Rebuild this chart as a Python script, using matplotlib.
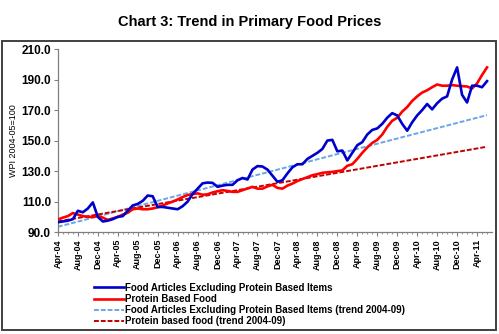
import numpy as np
import pandas as pd
import matplotlib
matplotlib.use('Agg')
from matplotlib import pyplot as plt
from matplotlib.patches import Rectangle

plt.rcParams['font.family'] = ['Liberation Sans', 'DejaVu Sans']

# monthly WPI, Apr-04 .. Jun-11
months = pd.date_range('2004-04-01', '2011-06-01', freq='MS').strftime('%b-%y').tolist()

food_ex_protein = [
    96.5, 97.0, 97.5, 98.5, 104.0, 103.0, 105.5, 109.5, 100.0, 97.0,
    97.5, 98.5, 100.0, 100.5, 104.0, 107.5, 108.5, 110.5, 114.0, 113.5,
    106.5, 106.5, 106.0, 105.5, 105.0, 107.0, 110.0, 115.0, 118.5, 122.0,
    122.5, 122.3, 119.7, 120.5, 121.0, 121.0, 124.0, 125.5, 124.5, 131.0,
    133.3, 133.0, 131.0, 127.0, 123.0, 124.0, 128.5, 132.5, 134.5, 134.5,
    138.0, 140.0, 142.0, 144.5, 150.0, 150.5, 143.0, 143.5, 137.0, 142.0,
    147.0, 149.0, 154.0, 157.0, 158.0, 161.0, 165.0, 168.0, 166.5, 161.0,
    156.5, 162.0, 166.5, 170.0, 174.0, 170.5, 174.5, 177.5, 179.0, 190.0,
    198.0, 180.0, 175.0, 186.0, 186.0, 185.0, 189.0,
]
protein_food = [
    98.3, 99.5, 100.5, 102.5, 101.5, 100.5, 100.0, 100.0, 100.5, 99.5,
    98.0, 99.0, 100.0, 101.5, 102.7, 105.0, 105.5, 105.0, 105.0, 105.5,
    106.3, 107.5, 108.8, 110.0, 111.4, 113.0, 114.3, 115.0, 115.4, 114.5,
    114.8, 116.0, 116.8, 117.5, 117.0, 116.4, 116.4, 117.5, 118.6, 119.7,
    118.5, 118.5, 120.0, 121.0, 119.0, 118.5, 120.5, 121.8, 123.5, 124.8,
    126.0, 127.3, 128.0, 128.9, 129.2, 129.5, 130.0, 130.5, 133.5, 134.5,
    138.0, 142.0, 145.5, 148.5, 150.5, 154.0, 159.0, 163.0, 165.0, 169.0,
    172.0, 176.0, 179.0, 181.5, 183.0, 185.0, 186.8, 186.0, 186.0, 186.4,
    186.0, 185.7, 185.5, 184.2, 187.5, 193.0, 198.0,
]

# linear trends fitted on 2004-09, end points at Apr-04 and Jun-11
trend_x = [0, 86]
food_ex_protein_trend = [93.5, 166.7]
protein_food_trend = [97.0, 146.0]

x = np.arange(len(months))

fig = plt.figure(figsize=(4.99, 3.34), dpi=100)
ax = fig.add_axes([0.116, 0.305, 0.87, 0.548])

ax.plot(trend_x, food_ex_protein_trend, color='#6aa6e8', lw=1.4, ls=(0, (2.5, 1)),
        label='Food Articles Excluding Protein Based Items (trend 2004-09)', zorder=2)
ax.plot(trend_x, protein_food_trend, color='#c00000', lw=1.4, ls=(0, (2.5, 1)),
        label='Protein based food (trend 2004-09)', zorder=2)
ax.plot(x, protein_food, color='#ff0000', lw=1.9,
        label='Protein Based Food', zorder=3)
ax.plot(x, food_ex_protein, color='#0000cc', lw=1.9,
        label='Food Articles Excluding Protein Based Items', zorder=4)

ax.set_xlim(0, 87)
ax.set_ylim(90, 210)
ax.set_yticks(np.arange(90, 211, 20))
ax.set_yticklabels([f'{v:.1f}' for v in np.arange(90, 211, 20)],
                   fontsize=8.5, fontweight='bold')
ax.set_xticks(x[::4])
ax.set_xticklabels(months[::4], rotation=90, fontsize=6.5, fontweight='bold')
ax.set_xticks(x, minor=True)
ax.tick_params(axis='both', which='major', length=3, width=0.8, color='#808080', pad=2)
ax.tick_params(axis='x', which='minor', length=1.5, width=0.6, color='#808080')
ax.set_ylabel('WPI 2004-05=100', fontsize=6.5, labelpad=2)

for s in ['top', 'right']:
    ax.spines[s].set_visible(False)
for s in ['left', 'bottom']:
    ax.spines[s].set_color('#808080')
    ax.spines[s].set_linewidth(0.9)

handles, labels = ax.get_legend_handles_labels()
order = [3, 2, 0, 1]
ax.legend([handles[i] for i in order], [labels[i] for i in order],
          loc='upper left', bbox_to_anchor=(0.178, 0.168), bbox_transform=fig.transFigure,
          frameon=False, prop={'size': 7, 'weight': 'bold'},
          handlelength=3.1, handletextpad=0.15, labelspacing=0.12, borderpad=0)

fig.text(0.5, 0.935, 'Chart 3: Trend in Primary Food Prices', ha='center', va='center',
         fontsize=10.5, fontweight='bold')

fig.patches.append(Rectangle((0.005, 0.012), 0.988, 0.865, transform=fig.transFigure,
                             fill=False, edgecolor='#404040', lw=1.4))

fig.savefig('out.png', dpi=100)
plt.close(fig)
